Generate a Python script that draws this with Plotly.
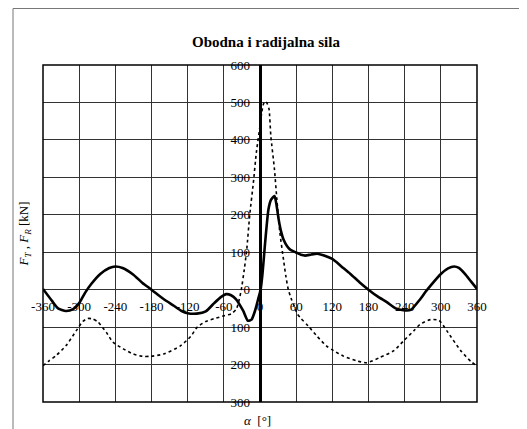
import plotly.graph_objects as go

# F_T (obodna sila) - solid line
alpha_T = [-360, -345, -335, -322, -310, -300, -290, -280, -265, -250, -240, -228, -210, -195, -180,
           -160, -143, -130, -120, -105, -90, -76, -65, -56, -48, -40, -28, -20, -14, -8, -3,
           1, 4, 8, 11, 14, 18, 24, 27, 31, 35, 39, 45, 50, 59, 68, 75, 85, 95, 105, 120,
           135, 150, 165, 180, 195, 211, 225, 238, 250, 266, 275, 283, 300, 312, 322, 330,
           340, 350, 360]
F_T = [2, -30, -50, -57, -52, -36, -8, 15, 42, 58, 62, 58, 40, 18, 0,
       -25, -43, -57, -63, -64, -58, -36, -20, -12, -15, -25, -56, -83, -80, -55, -25,
       0, 40, 116, 170, 214, 239, 250, 230, 187, 155, 134, 116, 107, 100, 93, 91, 94, 96, 92, 82,
       62, 42, 20, 0, -18, -34, -50, -55, -54, -25, -5, 11, 42, 57, 62, 58,
       42, 22, 2]

# F_R (radijalna sila) - dotted line
alpha_R = [-360, -350, -339, -322, -305, -294, -286, -278, -269, -255, -244, -227, -210, -195, -182,
           -160, -132, -115, -104, -90, -75, -60, -47, -39, -35, -31, -26, -22, -17, -11, -6,
           0, 3, 6, 9, 12, 15, 18, 24, 28, 33, 39, 43, 47, 52, 57, 62, 68, 80, 95, 110,
           122, 138, 160, 177, 199, 222, 238, 255, 266, 283, 297, 310, 333, 350, 360]
F_R = [-203, -190, -177, -150, -110, -85, -77, -78, -86, -114, -140, -158, -172, -178, -178,
       -172, -150, -125, -100, -85, -77, -70, -64, -51, -30, 0, 55, 107, 200, 286, 367,
       437, 474, 497, 503, 497, 482, 410, 321, 241, 152, 80, 35, 0, -25, -45, -65, -77, -97, -125, -150,
       -163, -177, -190, -195, -181, -163, -137, -110, -92, -80, -82, -110, -163, -192, -204]

x_ticks = [-360, -300, -240, -180, -120, -60, 0, 60, 120, 180, 240, 300, 360]
x_ticktext = [str(v) for v in x_ticks]
y_ticks = [-300, -200, -100, 0, 100, 200, 300, 400, 500, 600]
y_ticktext = [str(abs(v)) for v in y_ticks]

FONT = "Liberation Serif, Times New Roman, serif"

fig = go.Figure()
fig.add_trace(go.Scatter(x=alpha_R, y=F_R, mode="lines",
                         line=dict(color="black", width=1.6, dash="dot", shape="spline", smoothing=0.6),
                         showlegend=False))
fig.add_trace(go.Scatter(x=alpha_T, y=F_T, mode="lines",
                         line=dict(color="black", width=2.6, shape="spline", smoothing=0.6),
                         showlegend=False))

fig.update_layout(
    width=519, height=421,
    margin=dict(l=35, r=50, t=57, b=27),
    paper_bgcolor="white", plot_bgcolor="white",
    font=dict(family=FONT, size=13, color="black"),
    xaxis=dict(range=[-360, 360], tickvals=x_ticks, ticktext=x_ticktext,
               showgrid=True, gridcolor="#333333", gridwidth=1,
               zeroline=True, zerolinecolor="black", zerolinewidth=2.5,
               showline=False, ticks="", anchor="free", position=1/3,
               ticklabelstandoff=7, tickfont=dict(family=FONT, size=13)),
    yaxis=dict(range=[-300, 600], tickvals=y_ticks, ticktext=y_ticktext,
               showgrid=True, gridcolor="#333333", gridwidth=1,
               zeroline=True, zerolinecolor="#333333", zerolinewidth=1,
               showline=False, ticks="", anchor="free", position=0.5,
               ticklabelstandoff=10, tickfont=dict(family=FONT, size=13)),
    shapes=[
        dict(type="rect", xref="paper", yref="paper", x0=0, x1=1, y0=0, y1=1,
             line=dict(color="black", width=1.5)),
        dict(type="line", xref="paper", yref="paper", x0=-0.0691, x1=1.2, y0=1.1677, y1=1.1677,
             line=dict(color="#777777", width=1)),
        dict(type="line", xref="paper", yref="paper", x0=-0.0691, x1=-0.0691, y0=-0.2, y1=1.1677,
             line=dict(color="#777777", width=1)),
    ],
    annotations=[
        dict(text="<b>Obodna i radijalna sila</b>", xref="paper", yref="paper",
             x=0.514, y=1.0677, xanchor="center", yanchor="middle", showarrow=False,
             font=dict(family=FONT, size=15, color="black")),
        dict(text="<i>F</i><sub><i>T</i></sub> , <i>F</i><sub><i>R</i></sub> [kN]",
             xref="paper", yref="paper", x=-0.0415, y=0.5, textangle=-90,
             xanchor="center", yanchor="middle", showarrow=False,
             font=dict(family=FONT, size=13, color="black")),
        dict(text="<i>α</i>  [°]", xref="paper", yref="paper", x=0.495, y=-0.055,
             xanchor="center", yanchor="middle", showarrow=False,
             font=dict(family=FONT, size=13, color="black")),
    ],
)

fig.write_html("out.html")
